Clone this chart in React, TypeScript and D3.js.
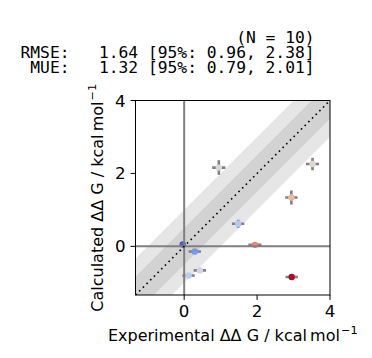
import React from "react";
import * as d3 from "d3";

const expX = [0.95, 3.52, 2.94, 1.48, 1.94, 0.29, -0.04, 0.43, 0.12, 2.95];
const calcY = [2.16, 2.26, 1.34, 0.62, 0.04, -0.14, 0.05, -0.66, -0.8, -0.84];
const xErr = [0.18, 0.18, 0.17, 0.17, 0.18, 0.17, 0.08, 0.17, 0.17, 0.17];
const yErr = [0.2, 0.17, 0.19, 0.11, 0.05, 0.05, 0.03, 0.07, 0.04, 0.05];
const ticks = [0, 2, 4];
const axisRange = [-1.335, 4];
const bands = [1, 0.5];
const titleLines = [
  "                      (N = 10)",
  "RMSE:   1.64 [95%: 0.96, 2.38]",
  " MUE:   1.32 [95%: 0.79, 2.01]",
];
const coolwarm = [
  "#3b4cc0", "#6282ea", "#8db0fe", "#b8d0f9", "#dddddd",
  "#f5c4ad", "#f49a7b", "#de604d", "#b40426",
];

export default function App() {
  const W = 372, H = 358;
  const L = 135.5, R = 330, T = 100.5, B = 295;
  const x = d3.scaleLinear().domain(axisRange).range([L, R]);
  const y = d3.scaleLinear().domain(axisRange).range([B, T]);
  const color = d3
    .scaleSequential(d3.interpolateRgbBasis(coolwarm))
    .domain([0, 2.4])
    .clamp(true);
  const [a0, a1] = axisRange;
  const line = d3.line<number[]>().x((d) => x(d[0])).y((d) => y(d[1]));
  const font = "'DejaVu Sans', sans-serif";
  const tickLen = 4.9;
  const labFs = 16;

  return (
    <svg width={W} height={H} style={{ position: "absolute", left: 0, top: 0 }}>
      <rect width={W} height={H} fill="white" />
      <defs>
        <clipPath id="plot">
          <rect x={L} y={T} width={R - L} height={B - T} />
        </clipPath>
      </defs>
      <text
        fontFamily="'DejaVu Sans Mono', monospace"
        fontSize={16.3}
        xmlSpace="preserve"
        style={{ whiteSpace: "pre" }}
      >
        {titleLines.map((t, i) => (
          <tspan key={i} x={20.5} y={42.5 + i * 15}>
            {t}
          </tspan>
        ))}
      </text>
      <g clipPath="url(#plot)">
        {bands.map((b) => {
          const pts = [a0, a1];
          const p = d3
            .area<number>()
            .x((d) => x(d))
            .y0((d) => y(d - b))
            .y1((d) => y(d + b))(pts);
          return <path key={b} d={p || ""} fill="#808080" fillOpacity={0.2} />;
        })}
        {expX.map((xv, i) => (
          <g key={i}>
            <line
              x1={x(xv - xErr[i])}
              x2={x(xv + xErr[i])}
              y1={y(calcY[i])}
              y2={y(calcY[i])}
              stroke="#808080"
              strokeWidth={2.6}
            />
            <line
              x1={x(xv)}
              x2={x(xv)}
              y1={y(calcY[i] - yErr[i])}
              y2={y(calcY[i] + yErr[i])}
              stroke="#808080"
              strokeWidth={2.6}
            />
            <circle
              cx={x(xv)}
              cy={y(calcY[i])}
              r={3.2}
              fill={color(Math.abs(calcY[i] - xv))}
            />
          </g>
        ))}
        <line x1={x(0)} x2={x(0)} y1={T} y2={B} stroke="#808080" strokeWidth={2} />
        <line x1={L} x2={R} y1={y(0)} y2={y(0)} stroke="#808080" strokeWidth={2} />
        <path
          d={line([[a0, a0], [a1, a1]]) || ""}
          stroke="black"
          strokeWidth={1.6}
          strokeDasharray="1.6 3.6"
          fill="none"
        />
      </g>
      <rect x={L} y={T} width={R - L} height={B - T} fill="none" stroke="black" strokeWidth={1} />
      {ticks.map((t) => (
        <g key={"x" + t}>
          <line x1={x(t)} x2={x(t)} y1={B} y2={B + tickLen} stroke="black" strokeWidth={1} />
          <text x={x(t)} y={317} textAnchor="middle" fontFamily={font} fontSize={16.67}>
            {t}
          </text>
        </g>
      ))}
      {ticks.map((t) => (
        <g key={"y" + t}>
          <line x1={L - tickLen} x2={L} y1={y(t)} y2={y(t)} stroke="black" strokeWidth={1} />
          <text
            x={L - 2 * tickLen}
            y={y(t)}
            dy="0.36em"
            textAnchor="end"
            fontFamily={font}
            fontSize={16.67}
          >
            {t}
          </text>
        </g>
      ))}
      <text x={(L + R) / 2} y={340.5} textAnchor="middle" fontFamily={font} fontSize={labFs}>
        {"Experimental ΔΔ G / kcal\u2009mol"}
        <tspan dx={1} dy={-6.5} fontSize={11.3}>−1</tspan>
      </text>
      <text
        transform={`translate(${102.5}, ${(T + B) / 2}) rotate(-90)`}
        textAnchor="middle"
        fontFamily={font}
        fontSize={labFs}
      >
        {"Calculated ΔΔ G / kcal\u2009mol"}
        <tspan dx={1} dy={-6.5} fontSize={11.3}>−1</tspan>
      </text>
    </svg>
  );
}
